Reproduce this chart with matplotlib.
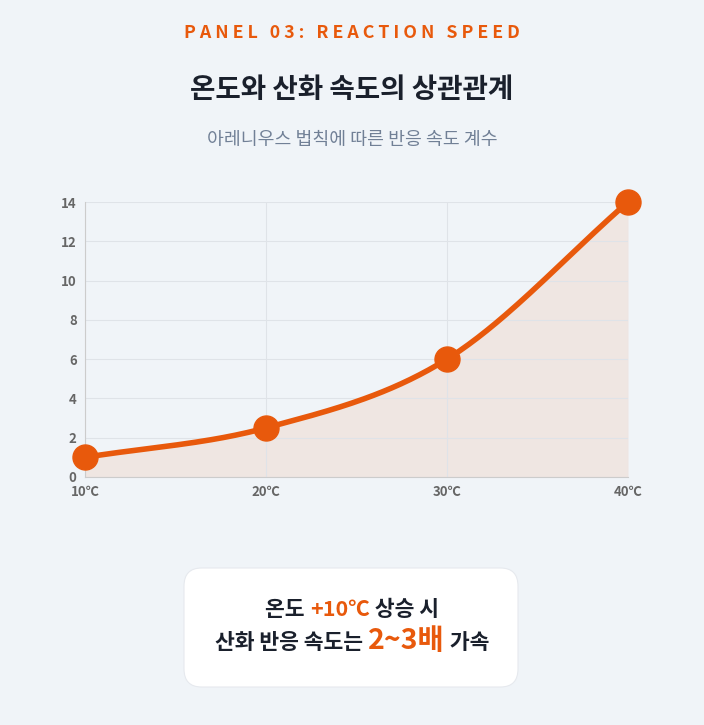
import numpy as np
import matplotlib
matplotlib.use("Agg")
import matplotlib.pyplot as plt
from matplotlib.patches import FancyBboxPatch
from matplotlib.offsetbox import TextArea, HPacker, AnchoredOffsetbox

plt.rcParams['font.family'] = ['Noto Sans CJK KR', 'DejaVu Sans']

temps = [10, 20, 30, 40]
rates = [1, 2.5, 6, 14]
tick_labels = ['10℃', '20℃', '30℃', '40℃']
y_ticks = [0, 2, 4, 6, 8, 10, 12, 14]

BG = '#f0f4f8'
ORANGE = '#e8590c'
DARK = '#1a202c'
GREY = '#718096'

fig = plt.figure(figsize=(7.04, 7.25), dpi=100, facecolor=BG)

fig.text(0.5, 1 - 33 / 725, 'P A N E L   0 3 :   R E A C T I O N   S P E E D', ha='center', va='center',
         color=ORANGE, fontsize=12.8, fontweight='bold')
fig.text(0.5, 1 - 90 / 725, '온도와 산화 속도의 상관관계', ha='center', va='center',
         color=DARK, fontsize=19.9, fontweight='bold')
fig.text(0.5, 1 - 140 / 725, '아레니우스 법칙에 따른 반응 속도 계수', ha='center', va='center',
         color=GREY, fontsize=13.2)

ax = fig.add_axes([85 / 704, 1 - 477 / 725, 543 / 704, 275 / 725])
ax.set_facecolor(BG)

# smooth curve through the points (monotone cubic hermite)
x = np.array(temps, float)
y = np.array(rates, float)
d = np.diff(y) / np.diff(x)
m = np.concatenate([[d[0]], (d[:-1] + d[1:]) / 2, [d[-1]]])
xs, ys = [], []
for i in range(len(x) - 1):
    h = x[i + 1] - x[i]
    t = np.linspace(0, 1, 60)
    h00 = 2 * t**3 - 3 * t**2 + 1
    h10 = t**3 - 2 * t**2 + t
    h01 = -2 * t**3 + 3 * t**2
    h11 = t**3 - t**2
    xs.append(x[i] + t * h)
    ys.append(h00 * y[i] + h10 * h * m[i] + h01 * y[i + 1] + h11 * h * m[i + 1])
xs = np.concatenate(xs)
ys = np.concatenate(ys)

ax.fill_between(xs, ys, 0, color=ORANGE, alpha=0.09, lw=0)
ax.plot(xs, ys, color=ORANGE, lw=4, solid_capstyle='round', zorder=3)
ax.plot(temps, rates, 'o', color=ORANGE, ms=18, zorder=4, clip_on=False)

ax.set_xlim(10, 40)
ax.set_ylim(0, 14)
ax.set_xticks(temps)
ax.set_xticklabels(tick_labels)
ax.set_yticks(y_ticks)
ax.grid(color='#dfe3e8', lw=0.8)
ax.tick_params(length=0, labelsize=9.5, labelcolor='#666666', pad=6)
for lab in ax.get_xticklabels() + ax.get_yticklabels():
    lab.set_fontweight('bold')
for s in ['top', 'right']:
    ax.spines[s].set_visible(False)
for s in ['left', 'bottom']:
    ax.spines[s].set_color('#cccccc')

box = FancyBboxPatch((184 / 704, 1 - 687 / 725), 334 / 704, 119 / 725,
                     boxstyle='round,pad=0,rounding_size=0.025', transform=fig.transFigure,
                     facecolor='white', edgecolor='#e6e9ee', lw=0.8)
fig.patches.append(box)


def rich_line(parts, ypix):
    areas = [TextArea(t, textprops=dict(color=c, fontsize=fs, fontweight='bold')) for t, c, fs in parts]
    pack = HPacker(children=areas, pad=0, sep=0, align='baseline')
    ab = AnchoredOffsetbox(loc='center', child=pack, frameon=False,
                           bbox_to_anchor=(0.5, 1 - ypix / 725), bbox_transform=fig.transFigure,
                           borderpad=0, pad=0)
    fig.add_artist(ab)


rich_line([('온도 ', DARK, 15.5), ('+10℃', ORANGE, 15.5), (' 상승 시', DARK, 15.5)], 610)
rich_line([('산화 반응 속도는 ', DARK, 15.5), ('2~3배', ORANGE, 20.5), (' 가속', DARK, 15.5)], 641)

fig.savefig('out.png', dpi=100, facecolor=BG)
